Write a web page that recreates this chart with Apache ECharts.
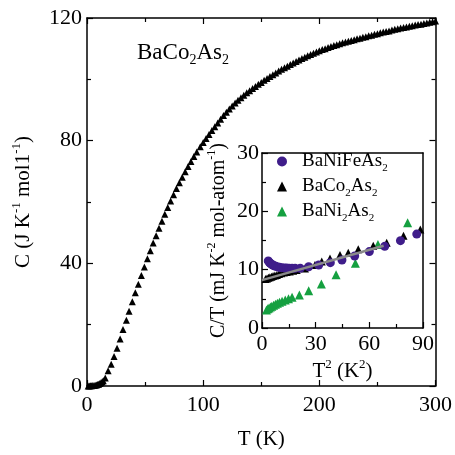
<!DOCTYPE html>
<html>
<head>
<meta charset="utf-8">
<script src="https://cdn.jsdelivr.net/npm/echarts@6/dist/echarts.min.js"></script>
<style>
  html, body { margin: 0; padding: 0; background: #fff; }
  #chart { width: 455px; height: 455px; }
</style>
</head>
<body>
<div id="chart"></div>
<script>
// main panel: C vs T for BaCo2As2
var tMain = [1, 2, 3, 4, 5, 6, 7, 8, 9, 10, 11, 12, 13, 14,
    15.7, 18.2, 20.8, 23.3, 25.9, 28.5, 31.0, 33.9, 36.2, 39.0,
    41.6, 44.2, 46.8, 49.4, 52.0, 54.5, 57.0, 59.5, 62.0, 64.5,
    67.0, 69.5, 72.0, 74.5, 77.0, 79.5, 82.0, 84.5, 87.0, 89.5,
    92.0, 94.5, 97.5, 100, 102.5, 105, 107.5, 110, 112.5, 115,
    117.5, 120, 122.5, 125, 127.5, 130, 132.5, 135, 137.5, 140,
    142.5, 145, 147.5, 150, 152.5, 155, 157.5, 160, 162.5, 165,
    167.5, 170, 172.5, 175, 177.5, 180, 182.5, 185, 187.5, 190,
    192.5, 195, 197.5, 200, 202.5, 205, 207.5, 210, 212.5, 215,
    217.5, 220, 222.5, 225, 227.5, 230, 232.5, 235, 237.5, 240,
    242.5, 245, 247.5, 250, 252.5, 255, 257.5, 260, 262.5, 265,
    267.5, 270, 272.5, 275, 277.5, 280, 282.5, 285, 287.5, 290,
    292.5, 295, 297.5, 300];
var cMain = [0.02, 0.04, 0.06, 0.09, 0.13, 0.18, 0.25, 0.34, 0.45, 0.6, 0.8, 1.05, 1.35, 1.7,
    2.6, 5.0, 7.1, 9.6, 12.3, 15.3, 18.4, 21.4, 24.4, 27.5,
    30.4, 33.2, 36.0, 38.8, 41.5, 44.1, 46.6, 49.0, 51.4, 53.7,
    56.0, 58.2, 60.3, 62.4, 64.4, 66.3, 68.1, 69.9, 71.6, 73.2,
    74.8, 76.3, 78.0, 79.4, 80.7, 82.0, 83.3, 84.5, 85.8, 87.0,
    88.2, 89.3, 90.3, 91.3, 92.3, 93.2, 94.0, 94.8, 95.6, 96.3,
    97.0, 97.7, 98.4, 99.0, 99.7, 100.3, 100.9, 101.5, 102.1, 102.7,
    103.3, 103.8, 104.3, 104.8, 105.3, 105.8, 106.3, 106.8, 107.2, 107.7,
    108.1, 108.5, 108.9, 109.3, 109.7, 110.0, 110.4, 110.7, 111.0, 111.3,
    111.6, 111.9, 112.2, 112.4, 112.7, 112.9, 113.2, 113.4, 113.7, 113.9,
    114.2, 114.4, 114.7, 114.9, 115.2, 115.4, 115.6, 115.8, 116.1, 116.3,
    116.5, 116.7, 116.9, 117.1, 117.3, 117.5, 117.7, 117.9, 118.0, 118.2,
    118.4, 118.6, 118.8, 119.0];

// inset: C/T vs T^2
var t2Fe = [3.5, 4.0, 4.6, 5.3, 6.0, 6.8, 7.7, 8.7, 9.8, 11.0, 12.3, 13.7, 15.2, 16.8, 18.5,
    21.4, 26.1, 31.7, 38.2, 44.7, 51.8, 60.0, 68.6, 77.4, 86.5];
var ctFe = [11.5, 11.3, 11.1, 10.95, 10.8, 10.68, 10.57, 10.47, 10.4, 10.35, 10.3, 10.27, 10.25, 10.25, 10.25,
    10.23, 10.5, 10.8, 11.2, 11.66, 12.34, 13.1, 14.0, 14.97, 16.1];

var t2Co = [2.0, 2.8, 3.6, 4.4, 5.3, 6.2, 7.2, 8.3, 9.5, 10.8, 12.2, 13.8, 15.5, 17.4,
    19.4, 24.0, 29.6, 33.4, 38.0, 43.6, 48.2, 53.8, 62.2, 69.7, 79.1, 88.5];
var ctCo = [8.4, 8.5, 8.6, 8.7, 8.8, 8.9, 9.0, 9.1, 9.25, 9.4, 9.5, 9.6, 9.7, 9.8,
    9.95, 10.2, 10.8, 11.4, 11.9, 12.5, 12.9, 13.5, 14.1, 14.6, 15.8, 16.9];

var t2Ni = [2.5, 3.2, 3.9, 4.7, 5.5, 6.5, 7.5, 8.6, 9.8, 11.2, 13.0, 14.8, 16.8,
    20.9, 26.1, 33.2, 41.4, 52.2, 64.8, 81.4];
var ctNi = [3.1, 3.3, 3.45, 3.6, 3.75, 3.92, 4.08, 4.25, 4.42, 4.6, 4.82, 5.02, 5.26,
    5.66, 6.4, 7.54, 9.14, 11.1, 14.3, 18.05];

// linear fit drawn through BaCo2As2
var fitT2 = [0, 68];
var fitCt = [8.2, 14.1];

var FONT = 'Liberation Serif';

function zip(a, b) {
    var out = [];
    for (var i = 0; i < a.length; i++) out.push([a[i], b[i]]);
    return out;
}

function richSet(size) {
    var small = Math.round(size * 0.6);
    return {
        n: {fontFamily: FONT, fontSize: size, fontWeight: 'normal', color: '#000', lineHeight: size + 6, verticalAlign: 'middle'},
        b: {fontFamily: FONT, fontSize: small, fontWeight: 'normal', color: '#000', lineHeight: 12, verticalAlign: 'bottom'},
        p: {fontFamily: FONT, fontSize: small, fontWeight: 'normal', color: '#000', lineHeight: 12, verticalAlign: 'top'}
    };
}

function axisBase(grid, pos, min, max, interval, minorSplit, labels) {
    return {
        type: 'value', gridIndex: grid, position: pos,
        min: min, max: max, interval: interval,
        axisLine: {show: true, onZero: false, lineStyle: {color: '#000', width: 1.5}},
        axisTick: {show: true, inside: true, length: 6, lineStyle: {color: '#000', width: 1.2}},
        minorTick: {show: true, splitNumber: minorSplit, length: 4, lineStyle: {color: '#000', width: 1.2}},
        splitLine: {show: false},
        minorSplitLine: {show: false},
        axisLabel: {show: labels, fontFamily: FONT, fontSize: 22, color: '#000'}
    };
}

var xMain = axisBase(0, 'bottom', 0, 300, 100, 2, true);
xMain.axisLabel.margin = 8;
xMain.name = '{n|T (K)}';
xMain.nameLocation = 'middle';
xMain.nameGap = 40;
xMain.nameTextStyle = {rich: richSet(21)};

var xMainTop = axisBase(0, 'top', 0, 300, 100, 2, false);

var yMain = axisBase(0, 'left', 0, 120, 40, 2, true);
yMain.axisLabel.margin = 5;
yMain.name = '{n|C (J K}{p|-1}{n| mol1}{p|-1}{n|)}';
yMain.nameLocation = 'middle';
yMain.nameRotate = 90;
yMain.nameGap = 50;
yMain.nameTextStyle = {rich: richSet(21)};

var yMainRight = axisBase(0, 'right', 0, 120, 40, 2, false);

var xIn = axisBase(1, 'bottom', 0, 90, 30, 2, true);
xIn.axisLabel.margin = 5;
xIn.name = '{n|T}{p|2}{n| (K}{p|2}{n|)}';
xIn.nameLocation = 'middle';
xIn.nameGap = 30;
xIn.nameTextStyle = {rich: richSet(21)};

var xInTop = axisBase(1, 'top', 0, 90, 30, 2, false);
xInTop.axisTick.show = false;
xInTop.minorTick.show = false;

var yIn = axisBase(1, 'left', 0, 30, 10, 2, true);
yIn.axisLabel.margin = 3;
yIn.name = '{n|C/T (mJ K}{p|-2}{n| mol-atom}{p|-1}{n|)}';
yIn.nameLocation = 'middle';
yIn.nameRotate = 90;
yIn.nameGap = 30;
yIn.nameTextStyle = {rich: richSet(20)};

var yInRight = axisBase(1, 'right', 0, 30, 10, 2, false);
yInRight.axisTick.show = false;
yInRight.minorTick.show = false;

var legendText = {
    'BaNiFeAs2': '{n|BaNiFeAs}{b|2}',
    'BaCo2As2': '{n|BaCo}{b|2}{n|As}{b|2}',
    'BaNi2As2': '{n|BaNi}{b|2}{n|As}{b|2}'
};

var option = {
    animation: false,
    backgroundColor: '#fff',
    title: {
        text: '{n|BaCo}{b|2}{n|As}{b|2}',
        left: 137, top: 38, padding: 0,
        textStyle: {fontWeight: 'normal', rich: richSet(23)}
    },
    legend: {
        data: ['BaNiFeAs2', 'BaCo2As2', 'BaNi2As2'],
        orient: 'vertical',
        left: 277, top: 152,
        padding: 0,
        itemGap: 3,
        itemWidth: 10, itemHeight: 10,
        formatter: function (name) { return legendText[name]; },
        textStyle: {padding: [0, 0, 0, 10], rich: richSet(19)}
    },
    grid: [
        {left: 87, top: 18, width: 351, height: 370},
        {left: 262, top: 153, width: 161, height: 175}
    ],
    xAxis: [xMain, xMainTop, xIn, xInTop],
    yAxis: [yMain, yMainRight, yIn, yInRight],
    series: [
        {
            name: 'main', type: 'scatter', xAxisIndex: 0, yAxisIndex: 0,
            symbol: 'triangle', symbolSize: 7,
            itemStyle: {color: '#000', opacity: 1},
            data: zip(tMain, cMain)
        },
        {
            name: 'BaNi2As2', type: 'scatter', xAxisIndex: 2, yAxisIndex: 2,
            symbol: 'triangle', symbolSize: 9,
            itemStyle: {color: '#15a040', opacity: 1},
            data: zip(t2Ni, ctNi)
        },
        {
            name: 'BaCo2As2', type: 'scatter', xAxisIndex: 2, yAxisIndex: 2,
            symbol: 'triangle', symbolSize: 8,
            itemStyle: {color: '#000', opacity: 1},
            data: zip(t2Co, ctCo)
        },
        {
            name: 'fit', type: 'line', xAxisIndex: 2, yAxisIndex: 2,
            showSymbol: false, symbol: 'none',
            lineStyle: {color: '#8a8a8a', width: 2.5},
            data: zip(fitT2, fitCt)
        },
        {
            name: 'BaNiFeAs2', type: 'scatter', xAxisIndex: 2, yAxisIndex: 2,
            symbol: 'circle', symbolSize: 9,
            itemStyle: {color: '#3f1d8a', opacity: 1},
            data: zip(t2Fe, ctFe)
        }
    ]
};

echarts.init(document.getElementById('chart')).setOption(option);
</script>
</body>
</html>
